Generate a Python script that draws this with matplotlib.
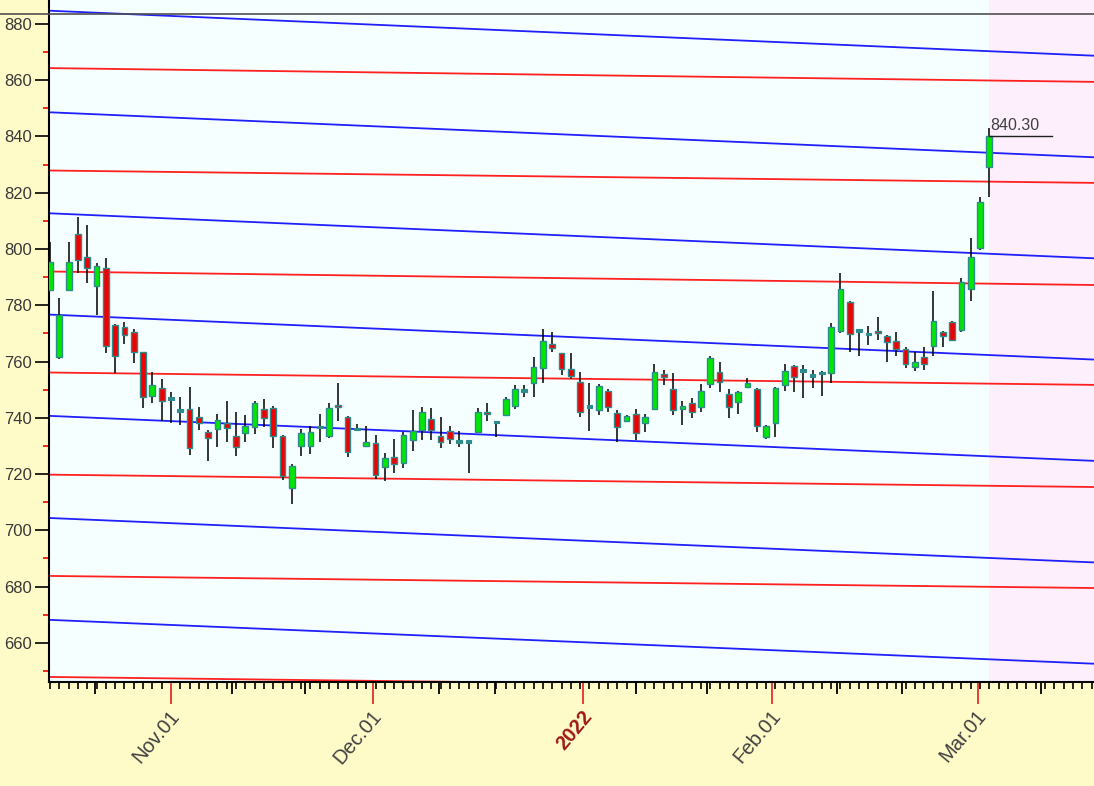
import matplotlib.pyplot as plt
from matplotlib.patches import Rectangle
from matplotlib.lines import Line2D

# daily candles, oldest first (x = trading-day index)
opens = [785.5, 761.5, 785.5, 805.4, 797.3, 786.9, 793.2, 773.0, 772.4, 770.4,
         763.3, 747.9, 750.5, 746.8, 742.6, 743.0, 740.2, 734.9, 736.0, 738.1,
         733.6, 734.5, 736.9, 743.0, 743.4, 733.6, 715.0, 730.0, 730.0, 736.8,
         733.6, 744.6, 740.2, 736.1, 730.0, 730.9, 722.4, 726.2, 723.9, 732.1,
         735.5, 739.5, 733.7, 735.3, 731.6, 731.6, 735.1, 742.0, 738.5, 741.0,
         744.3, 749.7, 752.3, 757.6, 766.2, 763.0, 757.3, 752.9, 744.1, 742.6,
         749.7, 741.6, 738.9, 741.3, 738.1, 743.2, 755.5, 750.2, 743.0, 745.4,
         743.8, 751.9, 756.2, 748.4, 745.5, 750.9, 750.2, 733.1, 738.3, 751.5,
         758.4, 756.9, 755.0, 756.0, 755.9, 770.9, 781.1, 771.1, 769.8, 771.0,
         769.1, 767.3, 764.5, 758.0, 761.5, 765.6, 770.4, 774.2, 771.2, 785.7,
         800.3, 829.1]
highs = [802.6, 782.7, 802.6, 811.5, 808.6, 795.2, 796.7, 773.5, 774.2, 771.5,
         763.5, 756.2, 753.7, 749.3, 747.5, 751.1, 744.0, 735.7, 741.4, 745.8,
         741.9, 741.0, 746.1, 746.6, 744.2, 734.0, 723.5, 736.0, 737.0, 741.4,
         745.4, 752.5, 740.5, 737.7, 737.2, 733.9, 727.4, 732.5, 735.0, 742.6,
         744.0, 743.4, 740.4, 737.1, 735.3, 732.0, 743.4, 745.4, 738.9, 747.5,
         751.5, 751.7, 761.5, 771.5, 770.6, 763.2, 763.0, 756.4, 752.3, 752.0,
         750.2, 742.8, 741.0, 743.2, 741.5, 759.3, 757.0, 756.1, 746.1, 747.2,
         751.9, 762.0, 760.0, 750.2, 749.5, 754.3, 750.5, 737.5, 751.1, 759.2,
         758.8, 758.6, 757.0, 756.5, 773.8, 791.6, 781.5, 771.2, 772.7, 776.0,
         769.5, 770.6, 765.0, 763.5, 765.3, 784.9, 771.0, 774.5, 789.6, 804.0,
         818.6, 842.9]
lows = [785.0, 761.0, 784.9, 791.4, 787.8, 776.6, 763.2, 755.8, 766.3, 759.6,
        743.4, 745.2, 738.7, 738.1, 737.5, 726.8, 735.5, 724.8, 729.6, 731.3,
        726.5, 731.5, 734.3, 736.7, 729.2, 718.0, 709.5, 726.5, 727.0, 731.5,
        732.8, 738.9, 725.9, 735.5, 729.6, 718.2, 717.7, 720.3, 722.1, 728.2,
        732.1, 732.1, 729.2, 730.7, 729.6, 720.3, 734.8, 738.7, 733.3, 740.5,
        743.0, 747.3, 747.3, 752.3, 763.3, 755.3, 753.7, 740.2, 735.3, 741.0,
        741.9, 731.3, 738.5, 732.1, 735.1, 742.8, 751.5, 741.0, 737.5, 740.0,
        741.9, 750.5, 749.0, 740.0, 741.4, 750.5, 735.1, 732.5, 733.3, 749.7,
        749.1, 746.9, 750.5, 747.8, 752.4, 770.3, 763.3, 762.0, 765.9, 767.7,
        759.8, 761.8, 757.6, 756.7, 757.0, 761.8, 765.1, 767.2, 770.6, 781.5,
        799.7, 818.4]
closes = [795.5, 776.6, 795.5, 796.1, 793.2, 794.1, 765.7, 762.1, 769.5, 763.3,
          747.3, 751.5, 746.1, 746.6, 742.4, 729.2, 738.3, 732.7, 739.3, 736.5,
          729.8, 737.2, 745.4, 739.9, 733.6, 719.4, 722.9, 734.5, 735.0, 736.6,
          743.4, 744.0, 727.8, 735.9, 731.5, 719.7, 725.6, 723.5, 733.9, 735.3,
          741.9, 735.5, 731.5, 732.5, 731.4, 731.4, 742.0, 741.3, 738.3, 746.6,
          750.2, 749.5, 758.2, 767.4, 764.7, 757.3, 754.9, 742.2, 743.9, 751.3,
          743.8, 736.7, 740.7, 734.5, 740.4, 756.4, 754.5, 742.8, 744.3, 742.2,
          749.7, 761.2, 752.9, 743.8, 749.0, 752.5, 737.1, 737.1, 750.5, 756.8,
          754.6, 756.7, 754.8, 755.8, 772.4, 785.7, 769.8, 770.9, 769.6, 770.1,
          766.9, 764.4, 759.0, 759.8, 759.0, 774.4, 769.2, 767.7, 788.4, 797.3,
          816.8, 840.3]

# x axis marks (in candle-index units)
month_idx = [13.0, 34.7, 57.35, 77.6, 99.75]
month_labels = ['Nov.01', 'Dec.01', '2022', 'Feb.01', 'Mar.01']
mid_idx = [4.8, 19.6, 27.4, 41.8, 47.9, 63.0, 70.6, 84.6, 91.6, 106.6]

# channel lines: price at left edge / right edge
blue_left = [884.7, 848.6, 812.7, 776.7, 740.7, 704.4, 668.2]
blue_right = [868.7, 832.6, 796.7, 760.7, 724.7, 688.6, 652.6]
red_left = [864.3, 827.9, 792.0, 756.1, 719.8, 683.8, 647.9]
red_right = [859.4, 823.5, 787.2, 751.7, 715.4, 679.5, 643.4]

last_price = 840.30

X0, X1 = -0.11, 112.26
TEAL = '#2E8B8B'
GREEN = '#00E800'
RED = '#F00000'
label_font = {'family': 'Liberation Sans', 'color': '#404040'}

fig = plt.figure(figsize=(10.94, 7.86), dpi=100, facecolor='#FFFBC8')
ax = fig.add_axes([49 / 1094, 104 / 786, 1045 / 1094, 682 / 786])
ax.set_facecolor('#F5FFFF')
ax.set_xlim(X0, X1)
ax.set_ylim(646.1, 888.5)

# future area
n = len(closes)
ax.axvspan(n - 1, X1, color='#FDF0FC', zorder=0, lw=0)

for lo, hi in zip(blue_left, blue_right):
    ax.plot([X0, X1], [lo, hi], color='#2020FF', lw=1.3, zorder=1)
for lo, hi in zip(red_left, red_right):
    ax.plot([X0, X1], [lo, hi], color='#FF2020', lw=1.3, zorder=1)

w = 0.62
for i in range(n):
    o, h, l, c = opens[i], highs[i], lows[i], closes[i]
    ax.vlines(i, l, h, color='black', lw=1.1, zorder=2)
    if abs(c - o) < 0.5:
        ax.add_patch(Rectangle((i - w / 2, o - 0.45), w, 0.9, facecolor=TEAL,
                               edgecolor=TEAL, lw=0.8, zorder=3))
    else:
        ax.add_patch(Rectangle((i - w / 2, min(o, c)), w, abs(c - o),
                               facecolor=GREEN if c > o else RED,
                               edgecolor=TEAL, lw=1.0, zorder=3))

# last price marker
ax.plot([n - 1, n + 5.7], [last_price, last_price], color='#202020', lw=1, zorder=4)
ax.text(n - 0.9, last_price + 1.0, '%.2f' % last_price, fontsize=11.5,
        va='bottom', ha='left', **label_font)

# y axis
ax.set_yticks(range(660, 881, 20))
ax.set_yticks(range(650, 881, 20), minor=True)
ax.tick_params(axis='y', which='major', length=10, width=1.2, color='black',
               labelsize=12, labelcolor='#383838', pad=2)
ax.tick_params(axis='y', which='minor', length=4, width=1.2, color='red')
for lab in ax.get_yticklabels():
    lab.set_family('Liberation Sans')

# x axis: red month ticks, black mid-month ticks, small daily ticks
ax.set_xticks(month_idx)
ax.set_xticks(range(0, 113), minor=True)
ax.tick_params(axis='x', which='major', length=16, width=1.2, color='#E02020',
               labelbottom=False)
ax.tick_params(axis='x', which='minor', length=5, width=1.2, color='black')
ax.vlines(mid_idx, -0.018, 0, transform=ax.get_xaxis_transform(),
          color='black', lw=1.3, clip_on=False)

for idx, lab in zip(month_idx, month_labels):
    if lab == '2022':
        ax.text(idx - 0.2, -0.036, lab, transform=ax.get_xaxis_transform(),
                rotation=50, rotation_mode='anchor', ha='right', va='top',
                fontsize=14.5, fontweight='bold', family='Liberation Sans',
                color='#A01818')
    else:
        ax.text(idx - 0.2, -0.036, lab, transform=ax.get_xaxis_transform(),
                rotation=50, rotation_mode='anchor', ha='right', va='top',
                fontsize=14.5, **label_font)

for side in ['top', 'right']:
    ax.spines[side].set_visible(False)
for side in ['left', 'bottom']:
    ax.spines[side].set_linewidth(1.5)
    ax.spines[side].set_color('black')

# thin line across the top of the figure
fig.add_artist(Line2D([0, 1], [1 - 14 / 786, 1 - 14 / 786], transform=fig.transFigure,
                      color='#505050', lw=1.2))

plt.savefig('out.png', dpi=100, facecolor=fig.get_facecolor())
